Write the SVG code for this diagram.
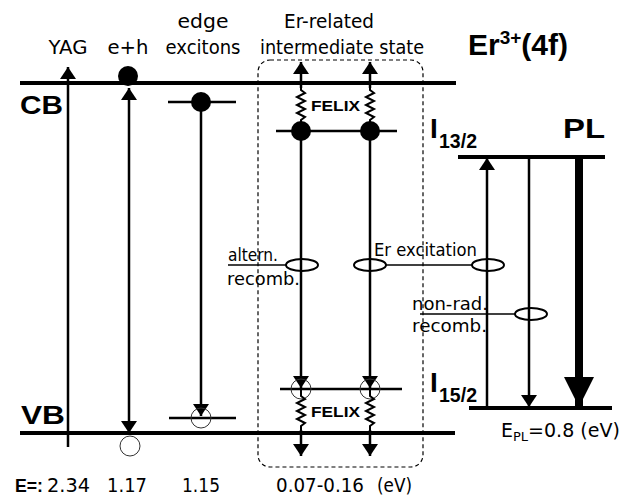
<svg xmlns="http://www.w3.org/2000/svg" width="622" height="497" viewBox="0 0 622 497">
<defs>
<style>
.lbl{font-family:"DejaVu Sans","Liberation Sans",sans-serif;font-size:17px;fill:#000}
.head{font-family:"DejaVu Sans","Liberation Sans",sans-serif;font-size:19px;fill:#000}
.num{font-family:"DejaVu Sans","Liberation Sans",sans-serif;font-size:19px;fill:#000}
.bold{font-family:"Liberation Sans",Arial,sans-serif;font-weight:bold;fill:#000}
.felix{font-family:"Liberation Sans",Arial,sans-serif;font-weight:bold;font-size:15px;fill:#000}
.band{stroke:#000;stroke-width:4;fill:none}
.lvl{stroke:#000;stroke-width:2.5;fill:none}
.arr{stroke:#000;stroke-width:2.5;fill:none}
.thin{stroke:#000;stroke-width:1.5;fill:none}
.open{stroke:#333;stroke-width:1;fill:none}
.dot{fill:#000}
.ell{stroke:#000;stroke-width:2;fill:none}
.zig{stroke:#000;stroke-width:2;fill:none;stroke-linejoin:miter}
</style>
<marker id="ah" markerUnits="userSpaceOnUse" markerWidth="12" markerHeight="16" refX="12" refY="8" orient="auto-start-reverse" viewBox="0 0 12 16">
<path d="M0,0 L12,8 L0,16 z" fill="#000"/>
</marker>
<marker id="ahbig" markerUnits="userSpaceOnUse" markerWidth="30" markerHeight="30" refX="30" refY="15" orient="auto" viewBox="0 0 30 30">
<path d="M0,0 L30,15 L0,30 z" fill="#000"/>
</marker>
</defs>
<rect x="0" y="0" width="622" height="497" fill="#fff"/>

<g id="headings">
<text class="head" x="68" y="54" text-anchor="middle" textLength="39" lengthAdjust="spacingAndGlyphs">YAG</text>
<text class="head" x="128" y="54" text-anchor="middle" textLength="41" lengthAdjust="spacingAndGlyphs">e+h</text>
<text class="head" x="203" y="28" text-anchor="middle" textLength="51" lengthAdjust="spacingAndGlyphs">edge</text>
<text class="head" x="203" y="54" text-anchor="middle" textLength="75" lengthAdjust="spacingAndGlyphs">excitons</text>
<text class="head" x="329" y="28" text-anchor="middle" textLength="90" lengthAdjust="spacingAndGlyphs">Er-related</text>
<text class="head" x="342" y="54" text-anchor="middle" textLength="164" lengthAdjust="spacingAndGlyphs">intermediate state</text>
<text class="bold" x="468" y="55" font-size="30">Er<tspan font-size="19" dy="-11">3+</tspan><tspan dy="11">(4f)</tspan></text>
</g>

<g id="bands">
<line class="band" x1="20" y1="83" x2="456" y2="83"/>
<line class="band" x1="20" y1="433" x2="455" y2="433"/>
<text class="bold" x="20" y="114" font-size="26" textLength="43" lengthAdjust="spacingAndGlyphs">CB</text>
<text class="bold" x="21" y="424" font-size="26" textLength="44" lengthAdjust="spacingAndGlyphs">VB</text>
</g>

<g id="yag">
<line class="arr" x1="68" y1="447" x2="68" y2="67" marker-end="url(#ah)"/>
</g>

<g id="eh">
<line class="arr" x1="129" y1="88" x2="129" y2="433" marker-start="url(#ah)" marker-end="url(#ah)"/>
<circle class="dot" cx="128" cy="76" r="10"/>
<circle class="open" cx="130" cy="446" r="10"/>
</g>

<g id="edge-excitons">
<line class="lvl" x1="168" y1="102" x2="236" y2="102"/>
<line class="lvl" x1="169" y1="418" x2="236" y2="418"/>
<line class="arr" x1="201" y1="102" x2="201" y2="416" marker-end="url(#ah)"/>
<circle class="dot" cx="201" cy="102" r="10"/>
<circle class="open" cx="201" cy="418" r="10"/>
</g>

<g id="er-intermediate">
<rect x="258" y="60" width="165" height="407" rx="12" fill="none" stroke="#000" stroke-width="1.2" stroke-dasharray="4,3"/>
<line class="lvl" x1="276" y1="131" x2="397" y2="131"/>
<line class="lvl" x1="280" y1="389" x2="402" y2="389"/>
<path class="arr" d="M301,88 L301,62" marker-end="url(#ah)"/>
<path class="arr" d="M370,88 L370,62" marker-end="url(#ah)"/>
<path class="zig" d="M301,87 L301,90 L305,93 L297,97 L305,101 L297,105 L305,109 L297,113 L305,117 L301,120 L301,131"/>
<path class="zig" d="M370,87 L370,90 L374,93 L366,97 L374,101 L366,105 L374,109 L366,113 L374,117 L370,120 L370,131"/>
<line class="arr" x1="301" y1="131" x2="301" y2="388" marker-end="url(#ah)"/>
<line class="arr" x1="370" y1="131" x2="370" y2="388" marker-end="url(#ah)"/>
<circle class="dot" cx="301" cy="131" r="10"/>
<circle class="dot" cx="370" cy="131" r="10"/>
<circle class="open" cx="301" cy="389" r="10"/>
<circle class="open" cx="370" cy="389" r="10"/>
<path class="zig" d="M301,389 L301,396 L305,399 L297,403 L305,407 L297,411 L305,415 L297,419 L305,423 L301,426 L301,432"/>
<path class="zig" d="M370,389 L370,396 L374,399 L366,403 L374,407 L366,411 L374,415 L366,419 L374,423 L370,426 L370,432"/>
<line class="arr" x1="301" y1="430" x2="301" y2="456" marker-end="url(#ah)"/>
<line class="arr" x1="370" y1="430" x2="370" y2="456" marker-end="url(#ah)"/>
<text class="felix" x="311" y="111" textLength="49" lengthAdjust="spacingAndGlyphs">FELIX</text>
<text class="felix" x="311" y="417" textLength="49" lengthAdjust="spacingAndGlyphs">FELIX</text>
</g>

<g id="er-4f">
<line class="band" x1="458" y1="157" x2="605" y2="157" stroke-width="3.5"/>
<line class="band" x1="469" y1="408" x2="612" y2="408" stroke-width="3.5"/>
<text class="bold" x="430" y="138" font-size="28">I</text>
<text class="bold" x="439" y="148" font-size="20" textLength="38" lengthAdjust="spacingAndGlyphs">13/2</text>
<text class="bold" x="430" y="392" font-size="28">I</text>
<text class="bold" x="439" y="402" font-size="20" textLength="38" lengthAdjust="spacingAndGlyphs">15/2</text>
<text class="bold" x="563" y="138" font-size="28" textLength="42" lengthAdjust="spacingAndGlyphs">PL</text>
<line class="arr" x1="487" y1="408" x2="487" y2="158" marker-end="url(#ah)"/>
<line class="arr" x1="529" y1="157" x2="529" y2="407" marker-end="url(#ah)"/>
<line x1="579" y1="157" x2="579" y2="407" stroke="#000" stroke-width="8" marker-end="url(#ahbig)"/>
<text class="num" x="501" y="437">E<tspan font-size="13" dy="4">PL</tspan><tspan dy="-4">=0.8 (eV)</tspan></text>
</g>

<g id="connectors">
<line class="thin" x1="228" y1="265" x2="286" y2="265"/>
<ellipse class="ell" cx="302" cy="265" rx="16" ry="6"/>
<ellipse class="ell" cx="370" cy="265" rx="16" ry="6"/>
<line class="thin" x1="386" y1="265" x2="472" y2="265"/>
<ellipse class="ell" cx="488" cy="265" rx="16" ry="6"/>
<line class="thin" x1="420" y1="314" x2="515" y2="314"/>
<ellipse class="ell" cx="531" cy="314" rx="16" ry="6"/>
</g>

<g id="labels">
<text class="lbl" x="228" y="261" textLength="50" lengthAdjust="spacingAndGlyphs">altern.</text>
<text class="lbl" x="227" y="285" textLength="73" lengthAdjust="spacingAndGlyphs">recomb.</text>
<text class="lbl" x="374" y="256" textLength="103" lengthAdjust="spacingAndGlyphs">Er excitation</text>
<text class="lbl" x="412" y="310" textLength="76" lengthAdjust="spacingAndGlyphs">non-rad.</text>
<text class="lbl" x="412" y="332" textLength="75" lengthAdjust="spacingAndGlyphs">recomb.</text>
</g>

<g id="energies">
<text class="bold" x="15" y="492" font-size="19" textLength="28" lengthAdjust="spacingAndGlyphs">E=:</text>
<text class="num" x="47" y="492" textLength="43" lengthAdjust="spacingAndGlyphs">2.34</text>
<text class="num" x="107" y="492" textLength="40" lengthAdjust="spacingAndGlyphs">1.17</text>
<text class="num" x="182" y="492" textLength="38" lengthAdjust="spacingAndGlyphs">1.15</text>
<text class="num" x="276" y="492" textLength="88" lengthAdjust="spacingAndGlyphs">0.07-0.16</text>
<text class="num" x="377" y="492" textLength="35" lengthAdjust="spacingAndGlyphs">(eV)</text>
</g>
</svg>
